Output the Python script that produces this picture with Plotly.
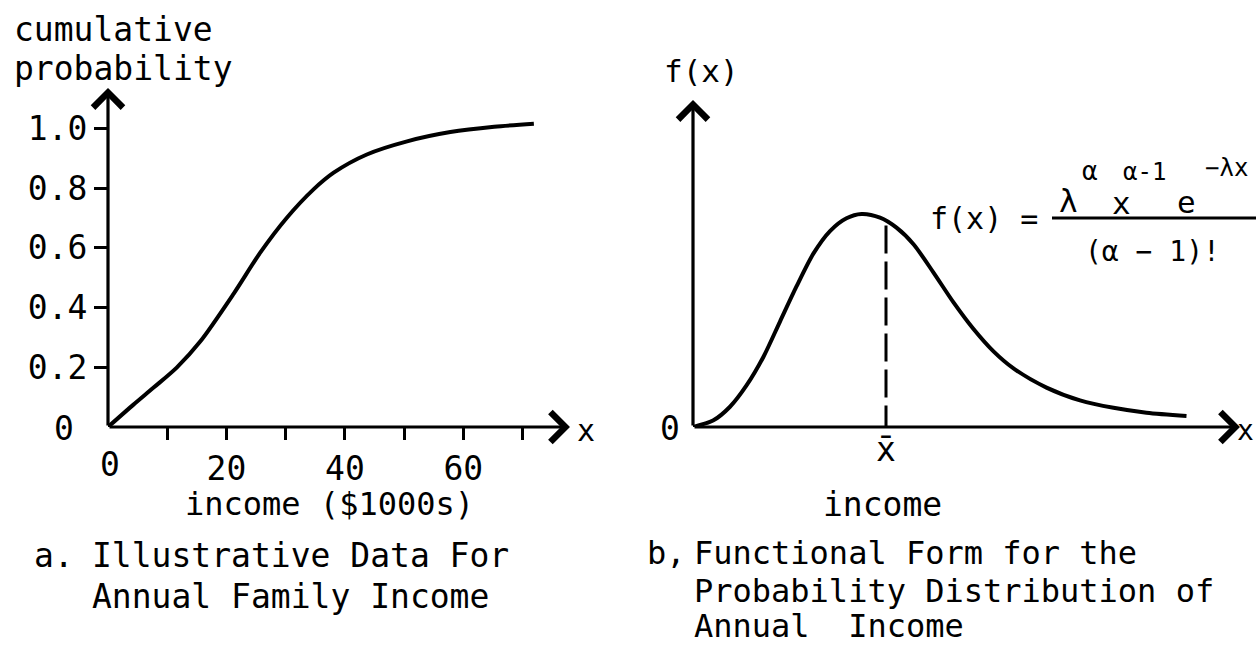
import plotly.graph_objects as go

# ---------------- data ----------------
# Panel a: cumulative probability vs income ($1000s)
cdf_income = [0, 4.3, 7.7, 11.6, 15.6, 21.2, 25.7, 30.2, 34.7, 38.1, 43.7, 50.5, 57.8, 65.2, 71.9]
cdf_prob = [0, 0.075, 0.132, 0.199, 0.287, 0.446, 0.584, 0.701, 0.796, 0.852, 0.913, 0.957, 0.988, 1.006, 1.016]
a_x_tickvals = [10, 20, 30, 40, 50, 60, 70]
a_x_ticktext = ["", "20", "", "40", "", "60", ""]
a_y_tickvals = [0.2, 0.4, 0.6, 0.8, 1.0]
a_y_ticktext = ["0.2", "0.4", "0.6", "0.8", "1.0"]

# Panel b: functional form f(x) (arbitrary units)
pdf_x = [0, 4.0, 7.4, 10.7, 14.1, 17.4, 20.7, 24.1, 27.4, 30.7, 33.7, 37.4, 40.7, 44.1,
         48.1, 52.1, 56.1, 60.1, 64.1, 70.7, 77.4, 84.1, 90.7, 98.7]
pdf_y = [0, 0.03, 0.095, 0.195, 0.33, 0.495, 0.66, 0.815, 0.92, 0.98, 1.0, 0.983, 0.936, 0.858,
         0.725, 0.585, 0.46, 0.355, 0.275, 0.185, 0.125, 0.09, 0.067, 0.052]
x_bar = 38.6
f_at_xbar = 0.966
b_x_tickvals = [x_bar]
b_x_ticktext = ["x\u0304"]

# ---------------- layout helpers ----------------
W, H = 1256, 645
def px(x):
    return x / W
def py(y):
    return 1 - y / H

FONT = "DejaVu Sans Mono"
BLACK = "black"

fig = go.Figure()

fig.add_trace(go.Scatter(x=cdf_income, y=cdf_prob, mode="lines",
                         line=dict(color=BLACK, width=4, shape="spline", smoothing=0.8),
                         cliponaxis=False, xaxis="x", yaxis="y", hoverinfo="skip"))
fig.add_trace(go.Scatter(x=pdf_x, y=pdf_y, mode="lines",
                         line=dict(color=BLACK, width=4, shape="spline", smoothing=0.8),
                         cliponaxis=False, xaxis="x2", yaxis="y2", hoverinfo="skip"))
fig.add_trace(go.Scatter(x=[x_bar, x_bar], y=[-0.03, f_at_xbar], mode="lines",
                         line=dict(color=BLACK, width=3, dash="28px,8px"),
                         cliponaxis=False, xaxis="x2", yaxis="y2", hoverinfo="skip"))

a_xmax = (570 - 108) / 5.923
a_ymax = (427 - 88) / 298.5
b_xmax = (1240 - 693) / 5.0
b_ymax = (427 - 100) / 213.0

axis_common = dict(showgrid=False, zeroline=False, showline=False,
                   tickcolor=BLACK, tickwidth=3,
                   tickfont=dict(family=FONT, size=33, color=BLACK))

fig.update_layout(
    width=W, height=H,
    margin=dict(l=0, r=0, t=0, b=0),
    paper_bgcolor="white", plot_bgcolor="white",
    showlegend=False,
    font=dict(family=FONT, color=BLACK),
    xaxis=dict(domain=[px(108), px(570)], range=[0, a_xmax], anchor="y",
               tickmode="array", tickvals=a_x_tickvals, ticktext=a_x_ticktext,
               ticks="outside", ticklen=12, **axis_common),
    yaxis=dict(domain=[py(427), py(88)], range=[0, a_ymax], anchor="x",
               tickmode="array", tickvals=a_y_tickvals, ticktext=a_y_ticktext,
               ticks="outside", ticklen=13, **axis_common),
    xaxis2=dict(domain=[px(693), px(1240)], range=[0, b_xmax], anchor="y2",
                tickmode="array", tickvals=b_x_tickvals, ticktext=b_x_ticktext,
                ticks="", **axis_common),
    yaxis2=dict(domain=[py(427), py(100)], range=[0, b_ymax], anchor="x2",
                showticklabels=False, ticks="", **axis_common),
)

ann = []
# axis arrows
arrow = dict(showarrow=True, arrowhead=4, arrowsize=1.8, arrowwidth=3.2, arrowcolor=BLACK, text="")
ann.append(dict(x=0, y=a_ymax, ax=0, ay=0, xref="x", yref="y", axref="x", ayref="y", **arrow))
ann.append(dict(x=a_xmax, y=0, ax=0, ay=0, xref="x", yref="y", axref="x", ayref="y", **arrow))
ann.append(dict(x=0, y=b_ymax, ax=0, ay=0, xref="x2", yref="y2", axref="x2", ayref="y2", **arrow))
ann.append(dict(x=b_xmax, y=0, ax=0, ay=0, xref="x2", yref="y2", axref="x2", ayref="y2", **arrow))

def txt(s, x, y, size, xanchor="left", yanchor="middle"):
    ann.append(dict(text=s, x=px(x), y=py(y), xref="paper", yref="paper",
                    xanchor=xanchor, yanchor=yanchor, showarrow=False,
                    font=dict(family=FONT, size=size, color=BLACK)))

# panel a texts
txt("cumulative", 12, 30, 33)
txt("probability", 12, 68, 33)
txt("0", 64, 428, 33, xanchor="center")
txt("0", 110, 465, 33, xanchor="center")
txt("x", 586, 430, 30, xanchor="center")
txt("income ($1000s)", 183, 504, 32)
txt("a.", 32, 555, 33)
txt("Illustrative Data For", 90, 555, 33)
txt("Annual Family Income", 90, 596, 33)

# panel b texts
txt("f(x)", 662, 71, 31)
txt("0", 670, 428, 33, xanchor="center")
txt("x", 1256, 430, 28, xanchor="right")
txt("income", 882, 504, 33, xanchor="center")
txt("b,", 645, 553, 32)
txt("Functional Form for the", 692, 553, 32)
txt("Probability Distribution of", 692, 591, 32)
txt("Annual  Income", 692, 626, 32)

# formula
txt("f(x) =", 1040, 218, 30, xanchor="right")
txt("\u03bb", 1068, 201, 31, xanchor="center")
txt("\u03b1", 1090, 171, 26, xanchor="center")
txt("x", 1121, 203, 31, xanchor="center")
txt("\u03b1-1", 1144, 172, 24, xanchor="center")
txt("e", 1186, 202, 31, xanchor="center")
txt("\u2212\u03bbx", 1226, 168, 24, xanchor="center")
txt("(\u03b1 \u2212 1)!", 1152, 252, 28, xanchor="center")

fig.update_layout(annotations=ann)
fig.add_shape(type="line", xref="paper", yref="paper",
              x0=px(1052), x1=px(1256), y0=py(218), y1=py(218),
              line=dict(color=BLACK, width=3))

fig.write_html("out.html", config={"displayModeBar": False},
               post_script="document.body.style.margin='0';document.body.style.overflow='hidden';")
